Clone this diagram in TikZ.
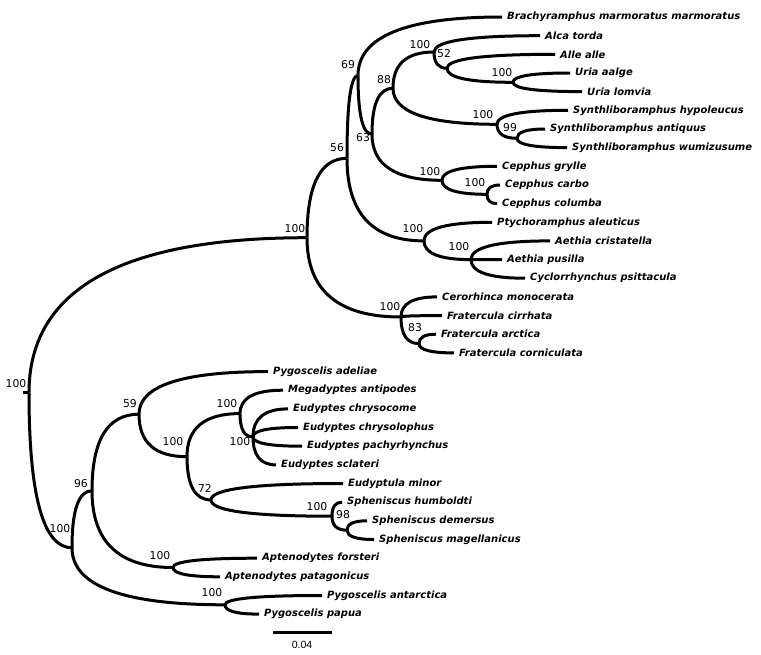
\documentclass[tikz,border=0pt]{standalone}
\usepackage{fontspec}
\newfontfamily\taxfont{DejaVu Sans}
\newfontfamily\bsfont{DejaVu Sans}
\newfontfamily\barfont{Liberation Sans}
\usetikzlibrary{calc}

\tikzset{
  branch/.style={line width=3pt,
    to path={.. controls ($(\tikztostart)!0.667!(\tikztostart|-\tikztotarget)$)
      and ($(\tikztotarget)!0.667!(\tikztostart|-\tikztotarget)$) .. (\tikztotarget)}},
  taxon/.style={anchor=west, inner sep=0pt, xshift=5pt,
    font=\taxfont\bfseries\itshape\fontsize{10}{12}\selectfont},
  bs/.style={inner sep=0pt, font=\bsfont\fontsize{10.8}{12}\selectfont},
}

\begin{document}
\begin{tikzpicture}[x=1pt,y=-1pt]
    \useasboundingbox (0,0) rectangle (761,654);

    % internal nodes
    \coordinate (root) at (29,392.7);
    \coordinate (stub) at (23,392.7);
    \coordinate (nA) at (307,237.7);
    \coordinate (nP) at (72,547.8);
    \coordinate (n56) at (347,158.3);
    \coordinate (n69) at (358,75.6);
    \coordinate (n63) at (372,134.2);
    \coordinate (n88) at (393,88.2);
    \coordinate (nAlca) at (434,52);
    \coordinate (n52) at (447,68.3);
    \coordinate (nUria) at (513,82.3);
    \coordinate (nSyn) at (497,124.3);
    \coordinate (n99) at (517,138.3);
    \coordinate (nCep) at (442,180.3);
    \coordinate (nCep2) at (487,194.3);
    \coordinate (nPty) at (424,240.9);
    \coordinate (nAet) at (471,259.6);
    \coordinate (nPuf) at (401,317);
    \coordinate (n83) at (419,343.6);
    \coordinate (n96) at (92,490.8);
    \coordinate (n59) at (139,414.2);
    \coordinate (nEudSph) at (187,456.7);
    \coordinate (nEud) at (240,413.6);
    \coordinate (nEud2) at (253,436.9);
    \coordinate (n72) at (211,499.9);
    \coordinate (nSph) at (332,516.2);
    \coordinate (n98) at (347,530.2);
    \coordinate (nApt) at (173,567.5);
    \coordinate (nPyg) at (225,604.8);

    % tips
    \coordinate (t1) at (502,17);
    \coordinate (t2) at (540,35.7);
    \coordinate (t3) at (555,54.3);
    \coordinate (t4) at (570,73);
    \coordinate (t5) at (582,91.6);
    \coordinate (t6) at (568,110.3);
    \coordinate (t7) at (545,129);
    \coordinate (t8) at (567,147.6);
    \coordinate (t9) at (497,166.3);
    \coordinate (t10) at (500,185);
    \coordinate (t11) at (497,203.6);
    \coordinate (t12) at (492,222.3);
    \coordinate (t13) at (550,240.9);
    \coordinate (t14) at (502,259.6);
    \coordinate (t15) at (525,278.2);
    \coordinate (t16) at (437,296.9);
    \coordinate (t17) at (442,315.6);
    \coordinate (t18) at (436,334.2);
    \coordinate (t19) at (454,352.9);
    \coordinate (t20) at (268,371.6);
    \coordinate (t21) at (283,390.2);
    \coordinate (t22) at (288,408.9);
    \coordinate (t23) at (298,427.5);
    \coordinate (t24) at (302,446.2);
    \coordinate (t25) at (276,464.9);
    \coordinate (t26) at (343,483.5);
    \coordinate (t27) at (342,502.2);
    \coordinate (t28) at (367,520.8);
    \coordinate (t29) at (374,539.5);
    \coordinate (t30) at (257,558.2);
    \coordinate (t31) at (220,576.8);
    \coordinate (t32) at (322,595.5);
    \coordinate (t33) at (259,614.1);

    % taxa
    \node[taxon] (l1) at (t1) {Brachyramphus marmoratus marmoratus};
    \node[taxon] (l2) at (t2) {Alca torda};
    \node[taxon] (l3) at (t3) {Alle alle};
    \node[taxon] (l4) at (t4) {Uria aalge};
    \node[taxon] (l5) at (t5) {Uria lomvia};
    \node[taxon] (l6) at (t6) {Synthliboramphus hypoleucus};
    \node[taxon] (l7) at (t7) {Synthliboramphus antiquus};
    \node[taxon] (l8) at (t8) {Synthliboramphus wumizusume};
    \node[taxon] (l9) at (t9) {Cepphus grylle};
    \node[taxon] (l10) at (t10) {Cepphus carbo};
    \node[taxon] (l11) at (t11) {Cepphus columba};
    \node[taxon] (l12) at (t12) {Ptychoramphus aleuticus};
    \node[taxon] (l13) at (t13) {Aethia cristatella};
    \node[taxon] (l14) at (t14) {Aethia pusilla};
    \node[taxon] (l15) at (t15) {Cyclorrhynchus psittacula};
    \node[taxon] (l16) at (t16) {Cerorhinca monocerata};
    \node[taxon] (l17) at (t17) {Fratercula cirrhata};
    \node[taxon] (l18) at (t18) {Fratercula arctica};
    \node[taxon] (l19) at (t19) {Fratercula corniculata};
    \node[taxon] (l20) at (t20) {Pygoscelis adeliae};
    \node[taxon] (l21) at (t21) {Megadyptes antipodes};
    \node[taxon] (l22) at (t22) {Eudyptes chrysocome};
    \node[taxon] (l23) at (t23) {Eudyptes chrysolophus};
    \node[taxon] (l24) at (t24) {Eudyptes pachyrhynchus};
    \node[taxon] (l25) at (t25) {Eudyptes sclateri};
    \node[taxon] (l26) at (t26) {Eudyptula minor};
    \node[taxon] (l27) at (t27) {Spheniscus humboldti};
    \node[taxon] (l28) at (t28) {Spheniscus demersus};
    \node[taxon] (l29) at (t29) {Spheniscus magellanicus};
    \node[taxon] (l30) at (t30) {Aptenodytes forsteri};
    \node[taxon] (l31) at (t31) {Aptenodytes patagonicus};
    \node[taxon] (l32) at (t32) {Pygoscelis antarctica};
    \node[taxon] (l33) at (t33) {Pygoscelis papua};

    % support values
    \node[bs] (bRoot) at (16,384) {100};
    \node[bs] (bA) at (295,229) {100};
    \node[bs] (bP) at (60,529) {100};
    \node[bs] (b96) at (81,484) {96};
    \node[bs] (b59) at (130,404) {59};
    \node[bs] (bEudSph) at (173,442) {100};
    \node[bs] (bEud) at (227,404) {100};
    \node[bs] (bEud2) at (240,442) {100};
    \node[bs] (b72) at (205,488) {72};
    \node[bs] (bSph) at (317,507) {100};
    \node[bs] (b98) at (343,515) {98};
    \node[bs] (bApt) at (160,556) {100};
    \node[bs] (bPyg) at (212,593) {100};
    \node[bs] (b56) at (337,148) {56};
    \node[bs] (b69) at (348,65) {69};
    \node[bs] (b63) at (363,138) {63};
    \node[bs] (b88) at (384,80) {88};
    \node[bs] (bCep) at (430,172) {100};
    \node[bs] (bCep2) at (475,183) {100};
    \node[bs] (bAlca) at (420,45) {100};
    \node[bs] (b52) at (444,54) {52};
    \node[bs] (bUria) at (502,73) {100};
    \node[bs] (bSyn) at (483,115) {100};
    \node[bs] (b99) at (510,128) {99};
    \node[bs] (bPty) at (413,229) {100};
    \node[bs] (bAet) at (459,247) {100};
    \node[bs] (bPuf) at (390,307) {100};
    \node[bs] (b83) at (415,328) {83};

    % branches
    \draw[line width=3pt] (stub) -- (root);
    \path (root) edge[branch] (nA);
    \path (root) edge[branch] (nP);
    \path (nA) edge[branch] (n56);
    \path (nA) edge[branch] (nPuf);
    \path (n56) edge[branch] (n69);
    \path (n56) edge[branch] (nPty);
    \path (n69) edge[branch] (t1);
    \path (n69) edge[branch] (n63);
    \path (n63) edge[branch] (n88);
    \path (n63) edge[branch] (nCep);
    \path (n88) edge[branch] (nAlca);
    \path (n88) edge[branch] (nSyn);
    \path (nAlca) edge[branch] (t2);
    \path (nAlca) edge[branch] (n52);
    \path (n52) edge[branch] (t3);
    \path (n52) edge[branch] (nUria);
    \path (nUria) edge[branch] (t4);
    \path (nUria) edge[branch] (t5);
    \path (nSyn) edge[branch] (t6);
    \path (nSyn) edge[branch] (n99);
    \path (n99) edge[branch] (t7);
    \path (n99) edge[branch] (t8);
    \path (nCep) edge[branch] (t9);
    \path (nCep) edge[branch] (nCep2);
    \path (nCep2) edge[branch] (t10);
    \path (nCep2) edge[branch] (t11);
    \path (nPty) edge[branch] (t12);
    \path (nPty) edge[branch] (nAet);
    \path (nAet) edge[branch] (t13);
    \path (nAet) edge[branch] (t14);
    \path (nAet) edge[branch] (t15);
    \path (nPuf) edge[branch] (t16);
    \path (nPuf) edge[branch] (t17);
    \path (nPuf) edge[branch] (n83);
    \path (n83) edge[branch] (t18);
    \path (n83) edge[branch] (t19);
    \path (nP) edge[branch] (n96);
    \path (nP) edge[branch] (nPyg);
    \path (n96) edge[branch] (n59);
    \path (n96) edge[branch] (nApt);
    \path (n59) edge[branch] (t20);
    \path (n59) edge[branch] (nEudSph);
    \path (nEudSph) edge[branch] (nEud);
    \path (nEudSph) edge[branch] (n72);
    \path (nEud) edge[branch] (t21);
    \path (nEud) edge[branch] (nEud2);
    \path (nEud2) edge[branch] (t22);
    \path (nEud2) edge[branch] (t23);
    \path (nEud2) edge[branch] (t24);
    \path (nEud2) edge[branch] (t25);
    \path (n72) edge[branch] (t26);
    \path (n72) edge[branch] (nSph);
    \path (nSph) edge[branch] (t27);
    \path (nSph) edge[branch] (n98);
    \path (n98) edge[branch] (t28);
    \path (n98) edge[branch] (t29);
    \path (nApt) edge[branch] (t30);
    \path (nApt) edge[branch] (t31);
    \path (nPyg) edge[branch] (t32);
    \path (nPyg) edge[branch] (t33);

    % scale bar
    \coordinate (sL) at (273,632);
    \coordinate (sR) at (332,632);
    \draw[line width=3pt] (sL) -- (sR);
    \node[inner sep=0pt, font=\barfont\fontsize{10.5}{12}\selectfont] (sLbl) at (302,645) {0.04};
\end{tikzpicture}
\end{document}
